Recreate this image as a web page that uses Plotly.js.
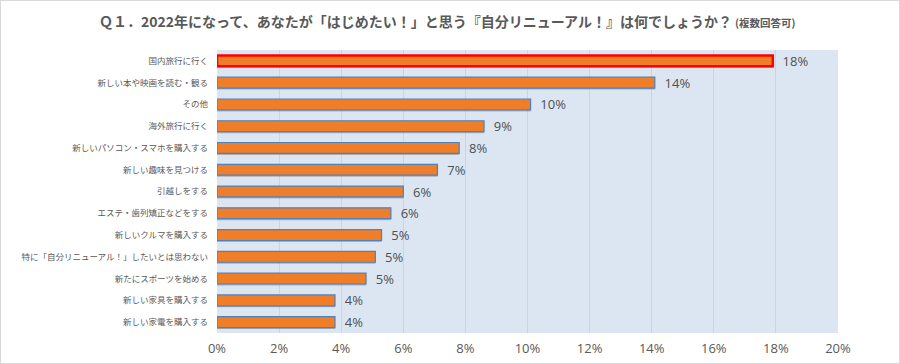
<!DOCTYPE html>
<html>
<head>
<meta charset="utf-8">
<script src="https://cdn.plot.ly/plotly-3.0.1.min.js"></script>
<style>
html,body{margin:0;padding:0;background:#fff;}
#frame{width:900px;height:364px;box-sizing:border-box;border:1px solid #d9d9d9;position:relative;overflow:hidden;}
#chart{position:absolute;left:-1px;top:-1px;width:900px;height:364px;}
</style>
</head>
<body>
<div id="frame"><div id="chart"></div></div>
<script>
const categories = [
  "国内旅行に行く",
  "新しい本や映画を読む・観る",
  "その他",
  "海外旅行に行く",
  "新しいパソコン・スマホを購入する",
  "新しい趣味を見つける",
  "引越しをする",
  "エステ・歯列矯正などをする",
  "新しいクルマを購入する",
  "特に「自分リニューアル！」したいとは思わない",
  "新たにスポーツを始める",
  "新しい家具を購入する",
  "新しい家電を購入する"
];
const values = [17.9, 14.1, 10.1, 8.6, 7.8, 7.1, 6.0, 5.6, 5.3, 5.1, 4.8, 3.8, 3.8];
const valueLabels = ["18%","14%","10%","9%","8%","7%","6%","6%","5%","5%","5%","4%","4%"];
const xTickVals = [0,2,4,6,8,10,12,14,16,18,20];
const xTickText = ["0%","2%","4%","6%","8%","10%","12%","14%","16%","18%","20%"];

const font = '"Noto Sans CJK JP", "Noto Sans", sans-serif';
const lineColors = categories.map((c,i)=> i===0 ? "#ff0000" : "#4f81bd");
const lineWidths = categories.map((c,i)=> i===0 ? 2.5 : 1.2);

// shadow trace
const shadow = {
  type: "bar", orientation: "h",
  y: categories, x: values,
  marker: {color: "rgba(90,90,90,0.4)", line: {width: 0}},
  width: 0.5, offset: -0.18,
  hoverinfo: "skip", showlegend: false
};
const main = {
  type: "bar", orientation: "h",
  y: categories, x: values,
  text: valueLabels,
  texttemplate: "  %{text}",
  textposition: "outside",
  constraintext: "none",
  cliponaxis: false,
  textfont: {family: "Open Sans, sans-serif", size: 13, color: "#505050"},
  marker: {color: "#f07d28", line: {color: lineColors, width: lineWidths}},
  width: 0.5, offset: -0.25,
  showlegend: false
};

const layout = {
  width: 900, height: 364,
  margin: {l: 217, r: 62, t: 50, b: 31},
  paper_bgcolor: "#ffffff",
  plot_bgcolor: "#dce6f2",
  barmode: "overlay",
  title: {
    text: "<b>Ｑ１．2022年になって、あなたが「はじめたい！」と思う『自分リニューアル！』は何でしょうか？</b> <span style='font-size:10.5px'><b>(複数回答可)</b></span>",
    font: {family: font, size: 14, color: "#595959"},
    x: 0.497, xanchor: "center", y: 0.94, yanchor: "middle"
  },
  xaxis: {
    range: [0, 20],
    tickvals: xTickVals, ticktext: xTickText,
    showgrid: true, gridcolor: "#d0d4da", gridwidth: 1,
    zeroline: false, showline: false,
    tickfont: {family: "Open Sans, sans-serif", size: 13, color: "#595959"},
    ticks: "", ticklabelstandoff: 6
  },
  yaxis: {
    autorange: "reversed",
    showgrid: false, zeroline: false, showline: false,
    tickfont: {family: font, size: 8.5, color: "#595959"},
    ticks: "", ticklabelstandoff: 8
  },
  bargap: 0.5
};
Plotly.newPlot("chart", [shadow, main], layout, {displayModeBar: false, staticPlot: true});
</script>
</body>
</html>
